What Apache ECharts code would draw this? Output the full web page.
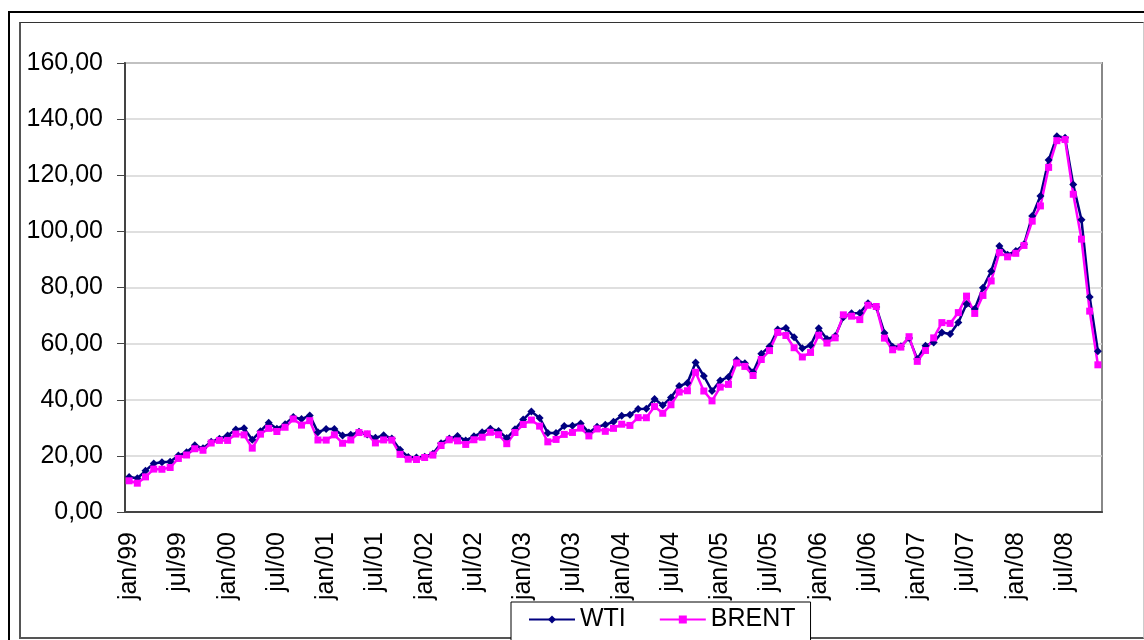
<!DOCTYPE html>
<html>
<head>
<meta charset="utf-8">
<script src="https://cdn.jsdelivr.net/npm/echarts@6/dist/echarts.min.js"></script>
<style>
  html, body { margin: 0; padding: 0; background: #fff; overflow: hidden; }
  .frame-outer {
    position: absolute; left: 8px; top: 11px; width: 1200px; height: 700px;
    border-left: 2px solid #000; border-top: 2px solid #000;
  }
  .frame-inner {
    position: absolute; left: 19px; top: 22px; width: 1122px; height: 614px;
    border-left: 2px solid #555; border-top: 1px solid #333;
    border-bottom: 2px solid #555; border-right: 1px solid #ccc;
  }
  #chart { position: absolute; left: 0; top: 0; width: 1144px; height: 640px; }
</style>
</head>
<body>
<div class="frame-outer"></div>
<div class="frame-inner"></div>
<div id="chart"></div>
<script>
const monthNames = ['jan', 'fev', 'mar', 'abr', 'mai', 'jun', 'jul', 'ago', 'set', 'out', 'nov', 'dez']
const years = ['99', '00', '01', '02', '03', '04', '05', '06', '07', '08']

// jan/99 .. nov/08, monthly
const wti = [
  12.47, 12.01, 14.68, 17.31, 17.72, 17.92, 20.10, 21.28, 23.80, 22.69, 25.00, 26.10,
  27.26, 29.37, 29.84, 25.72, 28.79, 31.82, 29.70, 31.26, 33.88, 33.11, 34.42, 28.44,
  29.59, 29.61, 27.25, 27.49, 28.63, 27.60, 26.43, 27.37, 26.20, 22.17, 19.64, 19.39,
  19.72, 20.72, 24.53, 26.18, 27.04, 25.52, 26.97, 28.39, 29.66, 28.84, 26.35, 29.46,
  32.95, 35.83, 33.51, 28.17, 28.11, 30.66, 30.76, 31.57, 28.31, 30.34, 31.11, 32.13,
  34.31, 34.69, 36.74, 36.75, 40.28, 38.03, 40.78, 44.90, 45.94, 53.28, 48.47, 43.15,
  46.84, 48.15, 54.19, 52.98, 49.83, 56.35, 59.00, 64.99, 65.59, 62.26, 58.32, 59.41,
  65.49, 61.63, 62.69, 69.44, 70.84, 70.95, 74.41, 73.04, 63.80, 58.89, 59.08, 61.96,
  54.51, 59.28, 60.44, 63.98, 63.46, 67.49, 74.12, 72.36, 79.92, 85.80, 94.77, 91.69,
  92.97, 95.39, 105.45, 112.58, 125.40, 133.88, 133.37, 116.67, 104.11, 76.61, 57.31,
]
const brent = [
  11.12, 10.27, 12.51, 15.29, 15.23, 15.86, 19.08, 20.31, 22.54, 22.00, 24.58, 25.51,
  25.51, 27.78, 27.49, 22.76, 27.74, 29.80, 28.68, 30.20, 33.14, 30.96, 32.55, 25.66,
  25.62, 27.50, 24.50, 25.66, 28.31, 27.85, 24.61, 25.68, 25.62, 20.54, 18.80, 18.71,
  19.42, 20.28, 23.70, 25.73, 25.35, 24.08, 25.74, 26.65, 28.40, 27.54, 24.34, 28.33,
  31.18, 32.77, 30.61, 25.00, 25.86, 27.65, 28.35, 29.89, 27.11, 29.61, 28.75, 29.81,
  31.28, 30.86, 33.63, 33.59, 37.57, 35.18, 38.22, 42.74, 43.20, 49.78, 43.11, 39.60,
  44.51, 45.48, 53.10, 51.88, 48.65, 54.35, 57.52, 63.98, 62.91, 58.54, 55.24, 56.86,
  62.99, 60.21, 62.06, 70.26, 69.78, 68.56, 73.67, 73.23, 61.96, 57.81, 58.76, 62.47,
  53.68, 57.56, 62.05, 67.49, 67.21, 71.05, 76.93, 70.76, 77.17, 82.34, 92.41, 90.93,
  92.18, 94.99, 103.64, 109.07, 122.80, 132.32, 132.72, 113.24, 97.23, 71.58, 52.45,
]

const months = []
years.forEach(y => {
  monthNames.forEach(m => months.push(m + '/' + y))
})
const categories = months.slice(0, wti.length)

const font = '"Liberation Sans", Arial, sans-serif'

const chart = echarts.init(document.getElementById('chart'))
chart.setOption({
  animation: false,
  textStyle: { fontFamily: font },
  grid: {
    left: 125,
    right: 42,
    top: 63,
    bottom: 128,
    show: true,
    borderColor: '#888',
    borderWidth: 2,
  },
  legend: {
    left: 511,
    top: 602,
    padding: [5, 15, 10, 17],
    itemWidth: 46,
    itemHeight: 10,
    itemGap: 33,
    borderColor: '#000',
    borderWidth: 1,
    backgroundColor: '#fff',
    textStyle: { color: '#000', fontSize: 25, fontFamily: font },
    data: ['WTI', 'BRENT'],
  },
  xAxis: {
    type: 'category',
    data: categories,
    boundaryGap: true,
    axisLine: { lineStyle: { color: '#444', width: 2 } },
    axisTick: { interval: 5, length: 8, lineStyle: { color: '#444', width: 1 } },
    axisLabel: {
      interval: 5,
      rotate: 90,
      margin: 20,
      color: '#000',
      fontSize: 25,
      fontFamily: font,
    },
    splitLine: { show: false },
  },
  yAxis: {
    type: 'value',
    min: 0,
    max: 160,
    interval: 20,
    axisLine: { show: true, lineStyle: { color: '#444', width: 2 } },
    axisTick: { show: true, length: 8, lineStyle: { color: '#444', width: 1 } },
    axisLabel: {
      margin: 22,
      color: '#000',
      fontSize: 25,
      fontFamily: font,
      formatter: v => v.toFixed(2).replace('.', ','),
    },
    splitLine: { lineStyle: { color: '#d4d4d4', width: 1.5 } },
  },
  series: [
    {
      name: 'WTI',
      type: 'line',
      data: wti,
      symbol: 'diamond',
      symbolSize: 8,
      showAllSymbol: true,
      lineStyle: { color: '#000080', width: 2.5 },
      itemStyle: { color: '#000080' },
    },
    {
      name: 'BRENT',
      type: 'line',
      data: brent,
      symbol: 'rect',
      symbolSize: 7,
      showAllSymbol: true,
      lineStyle: { color: '#ff00ff', width: 2.5 },
      itemStyle: { color: '#ff00ff' },
    },
  ],
})
</script>
</body>
</html>
